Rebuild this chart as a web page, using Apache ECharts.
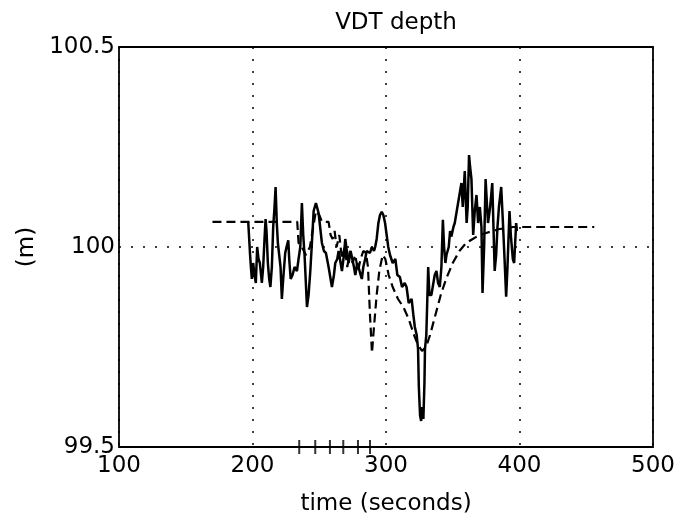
<!DOCTYPE html>
<html>
<head>
<meta charset="utf-8">
<script src="https://cdn.jsdelivr.net/npm/echarts@6/dist/echarts.min.js"></script>
<style>
html,body{margin:0;padding:0;background:#fff;}
#chart{width:693px;height:521px;}
</style>
</head>
<body>
<div id="chart"></div>
<script>
// ---- data ----
var titleText = 'VDT depth';
var xName = 'time (seconds)';
var yName = '(m)';
var xTicks = [100, 200, 300, 400, 500];
var yTicks = [99.5, 100, 100.5];

// measured depth (solid)
var solidTime = [196.8,197.5,198.2,198.8,199.5,200.5,201.5,202.5,203.5,204.5,205.5,207,208,209,209.8,210.5,211.5,212.5,213.4,214.5,215.5,216.5,217.3,218.2,219,220,221,222,223,224.5,225.5,226.8,227.5,228.6,230,231.5,233.3,234.5,235.8,237,238,239,240.8,242,243.3,244.5,245.8,247.5,249.5,251,252,253.5,255,257,258.5,259.5,261,262,263.5,264.5,266,267,268.5,269.5,271,272,273.5,274.5,276,277,278.5,279.4,281,281.9,283,284.4,285.5,286.9,288,289.4,291,291.9,293,294.3,295.5,296.8,298,299.3,300.5,301.7,303,305,307,308.5,310.4,312,314,315.4,317,319.2,320.5,321.6,323,324,324.6,325.5,326.3,327.2,328,328.8,329.2,330.2,331.2,331.6,332.5,334,335,336.5,337.8,339,340.3,341.5,342.6,343.5,344.5,345.3,347,348,349,350.5,351.5,353,354,355.5,356.5,357.5,359,360.4,361.2,362.2,363,364,365.3,366.5,367.8,369,370.3,371.5,372.3,373.5,374.6,376.4,378,379.6,380.5,381.4,382.5,383.5,384.6,386.3,387.6,388.8,390,391,392.5,393.5,395,396,397.5,398];
var solidDepth = [100.063,100.06,99.98,99.95,99.92,99.96,99.93,99.91,100.0,99.97,99.96,99.91,99.95,100.02,100.07,100.04,99.96,99.92,99.90,99.95,100.05,100.10,100.15,100.06,100.01,99.98,99.95,99.87,99.92,99.985,100.0,100.017,99.97,99.92,99.93,99.95,99.94,99.97,100.0,100.11,100.03,99.98,99.85,99.88,99.94,100.01,100.09,100.11,100.085,100.04,100.01,99.99,99.985,99.95,99.92,99.90,99.93,99.96,99.97,99.99,99.96,99.94,99.98,100.02,99.98,99.96,99.99,99.99,99.95,99.93,99.96,99.95,99.93,99.92,99.95,99.97,99.99,99.99,99.985,100.0,99.99,100.0,100.02,100.06,100.08,100.088,100.08,100.06,100.03,100.0,99.98,99.96,99.97,99.93,99.925,99.90,99.91,99.90,99.86,99.87,99.83,99.80,99.78,99.745,99.65,99.58,99.565,99.60,99.57,99.66,99.745,99.78,99.90,99.95,99.88,99.88,99.90,99.93,99.94,99.91,99.90,99.95,100.068,100.0,99.96,99.98,100.0,100.04,100.026,100.05,100.06,100.09,100.085,100.14,100.16,100.10,100.19,100.06,100.1,100.23,100.20,100.17,100.03,100.09,100.13,100.06,100.10,100.05,99.885,100.0,100.17,100.06,100.10,100.16,100.05,99.94,99.98,100.05,100.10,100.15,100.06,99.97,99.876,99.95,100.09,100.03,99.97,99.96,100.06,100.04];

// reference / model depth (dashed)
var dashTime = [170,233.5,234.5,237,240,243,245.5,247.5,250,252,257,258.5,260,261.5,263,265,267,269,271,273,275,277,279,281,283,285,286.5,288,289.5,291,293,295,297.5,299.5,302,305,309,313,317,321,324,327,330,333,337,341,345,350,355,360,365,370,375,380,385,390,395,400,456];
var dashDepth = [100.063,100.063,100.01,100.0,99.98,100.0,100.05,100.09,100.08,100.063,100.063,100.03,100.02,100.04,100.0,100.03,99.97,100.0,99.95,99.99,99.96,99.98,99.94,99.97,99.99,99.985,99.95,99.83,99.735,99.80,99.88,99.94,99.98,99.97,99.93,99.90,99.87,99.85,99.82,99.78,99.755,99.74,99.75,99.78,99.83,99.88,99.92,99.96,99.99,100.01,100.02,100.03,100.035,100.04,100.045,100.047,100.05,100.05,100.05];

// small event marks on the bottom axis
var markTimes = [235, 247, 258, 268, 279, 288];
var markDepth = 99.5;

// ---- build ----
function pairs(xs, ys){ var o=[]; for(var i=0;i<xs.length;i++) o.push([xs[i], ys[i]]); return o; }
var marks = markTimes.map(function(t){ return [t, markDepth]; });

var FONT = 'DejaVu Sans';
var chart = echarts.init(document.getElementById('chart'), null, {renderer:'canvas'});
chart.setOption({
  animation: false,
  backgroundColor: '#fff',
  title: {
    text: titleText, left: 391, top: 7, textAlign: 'center',
    textStyle: {fontFamily: FONT, fontSize: 23, fontWeight: 'normal', color: '#000'}
  },
  grid: {left: 119, right: 40, top: 47, bottom: 73, show: true, borderColor: '#000', borderWidth: 1.8, backgroundColor: 'transparent'},
  xAxis: {
    type: 'value', min: xTicks[0], max: xTicks[xTicks.length-1], interval: 100,
    name: xName, nameLocation: 'middle', nameGap: 46,
    nameTextStyle: {fontFamily: FONT, fontSize: 23, color: '#000'},
    axisLine: {show: false}, axisTick: {show: false},
    axisLabel: {fontFamily: FONT, fontSize: 23, color: '#000', margin: 8},
    splitLine: {show: true, lineStyle: {color: '#000', width: 1.5, type: [2, 10]}}
  },
  yAxis: {
    type: 'value', min: yTicks[0], max: yTicks[yTicks.length-1], interval: 0.5,
    name: yName, nameLocation: 'middle', nameGap: 77, nameRotate: 90,
    nameTextStyle: {fontFamily: FONT, fontSize: 23, color: '#000'},
    axisLine: {show: false}, axisTick: {show: false},
    axisLabel: {fontFamily: FONT, fontSize: 23, color: '#000', margin: 4},
    splitLine: {show: true, lineStyle: {color: '#000', width: 1.5, type: [2, 10]}}
  },
  series: [
    {type: 'line', data: pairs(dashTime, dashDepth), showSymbol: false, symbol: 'none',
     lineStyle: {color: '#000', width: 2.2, type: [9, 5]}, z: 2},
    {type: 'line', data: pairs(solidTime, solidDepth), showSymbol: false, symbol: 'none',
     lineStyle: {color: '#000', width: 2.5}, z: 3},
    {type: 'scatter', data: marks, symbol: 'rect', symbolSize: [2, 14], clip: false,
     itemStyle: {color: '#000'}, z: 4}
  ]
});
</script>
</body>
</html>
